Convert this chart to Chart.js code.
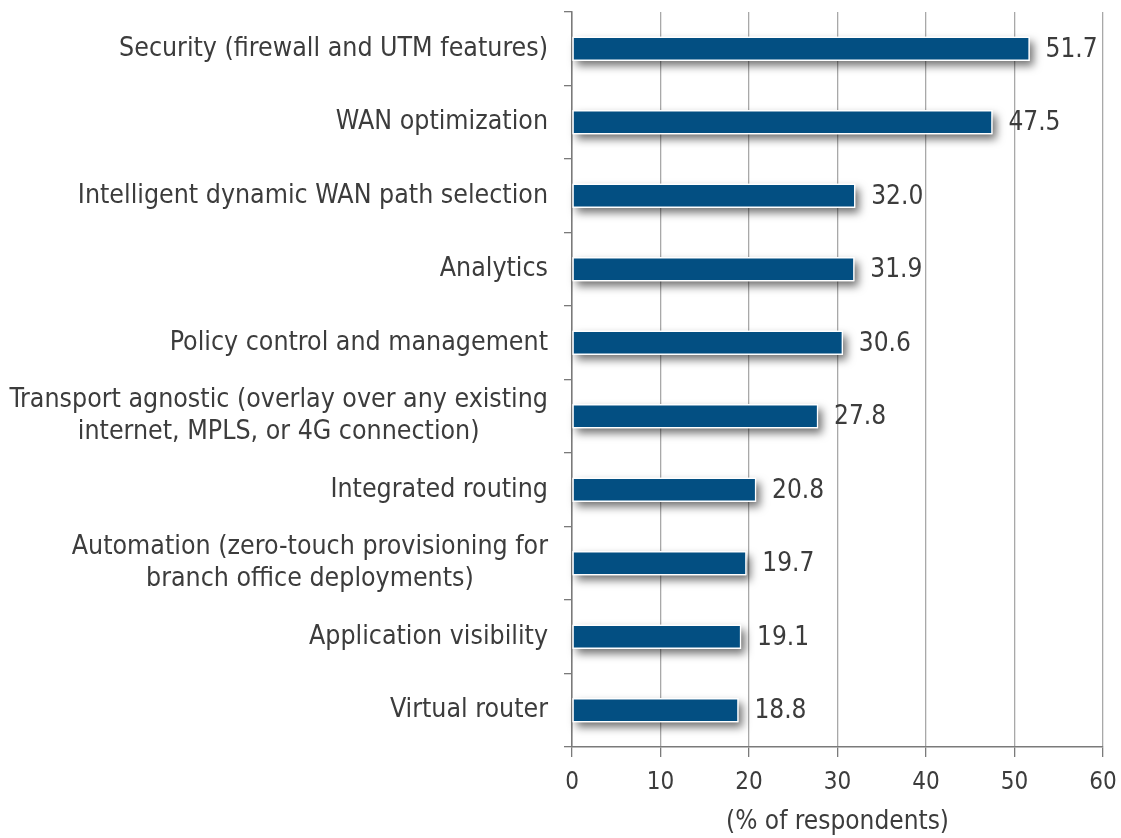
<!DOCTYPE html>
<html>
<head>
<meta charset="utf-8">
<script src="https://cdn.jsdelivr.net/npm/chart.js@4/dist/chart.umd.min.js"></script>
<style>
  html, body { margin: 0; padding: 0; background: #ffffff; }
  #wrap { width: 1121px; height: 838px; position: relative; }
</style>
</head>
<body>
<div id="wrap"><canvas id="c" width="1121" height="838"></canvas></div>
<script>
const categories = [
  ["Security (firewall and UTM features)"],
  ["WAN optimization"],
  ["Intelligent dynamic WAN path selection"],
  ["Analytics"],
  ["Policy control and management"],
  ["Transport agnostic (overlay over any existing", "internet, MPLS, or 4G connection)"],
  ["Integrated routing"],
  ["Automation (zero-touch provisioning for", "branch office deployments)"],
  ["Application visibility"],
  ["Virtual router"]
];
const values = [51.7, 47.5, 32.0, 31.9, 30.6, 27.8, 20.8, 19.7, 19.1, 18.8];
const xTicks = [0, 10, 20, 30, 40, 50, 60];
const xTitle = "(% of respondents)";

const FONT = "'DejaVu Sans Condensed', 'DejaVu Sans', sans-serif";
const TEXT = "#3c3c3c";

// soft drop shadow under each bar (drawn from the bar elements' own geometry)
const shadowPlugin = {
  id: 'shadow',
  beforeDatasetsDraw(chart) {
    const ctx = chart.ctx;
    const meta = chart.getDatasetMeta(0);
    ctx.save();
    ctx.shadowColor = 'rgba(0,0,0,0.55)';
    ctx.shadowBlur = 8;
    ctx.shadowOffsetX = 4;
    ctx.shadowOffsetY = 5;
    ctx.fillStyle = '#ffffff';
    meta.data.forEach(bar => {
      const p = bar.getProps(['x', 'y', 'base', 'height'], true);
      const left = Math.min(p.x, p.base), right = Math.max(p.x, p.base);
      ctx.fillRect(left, p.y - p.height / 2, right - left, p.height);
    });
    ctx.restore();
  }
};

const labelsPlugin = {
  id: 'customLabels',
  afterDraw(chart) {
    const ctx = chart.ctx;
    const y = chart.scales.y;
    const x = chart.scales.x;
    ctx.save();
    ctx.fillStyle = TEXT;
    ctx.font = "26.5px " + FONT;
    ctx.textBaseline = 'middle';
    const rightEdge = chart.chartArea.left - 24;
    const lineH = 31.5;
    categories.forEach((lines, i) => {
      const cy = y.getPixelForValue(i);
      const w = Math.max(...lines.map(l => ctx.measureText(l).width));
      const cx = rightEdge - w / 2;
      ctx.textAlign = 'center';
      const start = cy - (lines.length - 1) * lineH / 2;
      lines.forEach((l, k) => ctx.fillText(l, cx, start + k * lineH));
    });
    ctx.font = "26px " + FONT;
    ctx.textAlign = 'left';
    values.forEach((v, i) => {
      const px = x.getPixelForValue(v);
      const py = y.getPixelForValue(i);
      ctx.fillText(v.toFixed(1), px + 16, py + 1);
    });
    ctx.restore();
  }
};

new Chart(document.getElementById('c'), {
  type: 'bar',
  data: {
    labels: categories,
    datasets: [{
      data: values,
      backgroundColor: '#034f82',
      borderColor: '#ffffff',
      borderWidth: 1.5,
      borderSkipped: false,
      barThickness: 24
    }]
  },
  options: {
    indexAxis: 'y',
    responsive: false,
    animation: false,
    devicePixelRatio: 1,
    layout: { padding: { top: 12, right: 18, bottom: 0, left: 0 } },
    plugins: {
      legend: { display: false },
      tooltip: { enabled: false }
    },
    scales: {
      x: {
        min: 0, max: 60,
        afterBuildTicks(scale) { scale.ticks = xTicks.map(v => ({ value: v })); },
        afterFit(scale) { scale.height = 91; scale.paddingLeft = 0; scale.paddingRight = 0; },
        grid: {
          color: '#a8a8a8',
          lineWidth: 1.3,
          tickColor: '#7a7a7a',
          tickLength: 10,
          drawTicks: true
        },
        border: { display: true, color: '#7a7a7a', width: 1.5 },
        ticks: {
          color: TEXT,
          font: { family: FONT, size: 24 },
          padding: 11
        },
        title: {
          display: true,
          text: xTitle,
          color: TEXT,
          font: { family: FONT, size: 26 },
          padding: { top: 1, bottom: 0 }
        }
      },
      y: {
        afterFit(scale) { scale.width = 572; scale.paddingTop = 0; scale.paddingBottom = 0; },
        grid: {
          offset: true,
          drawOnChartArea: false,
          drawTicks: true,
          tickLength: 8,
          tickColor: '#7a7a7a',
          lineWidth: 1.3
        },
        border: { display: true, color: '#7a7a7a', width: 1.5 },
        ticks: {
          color: 'rgba(0,0,0,0)',
          font: { family: FONT, size: 4 }
        }
      }
    }
  },
  plugins: [shadowPlugin, labelsPlugin]
});
</script>
</body>
</html>
